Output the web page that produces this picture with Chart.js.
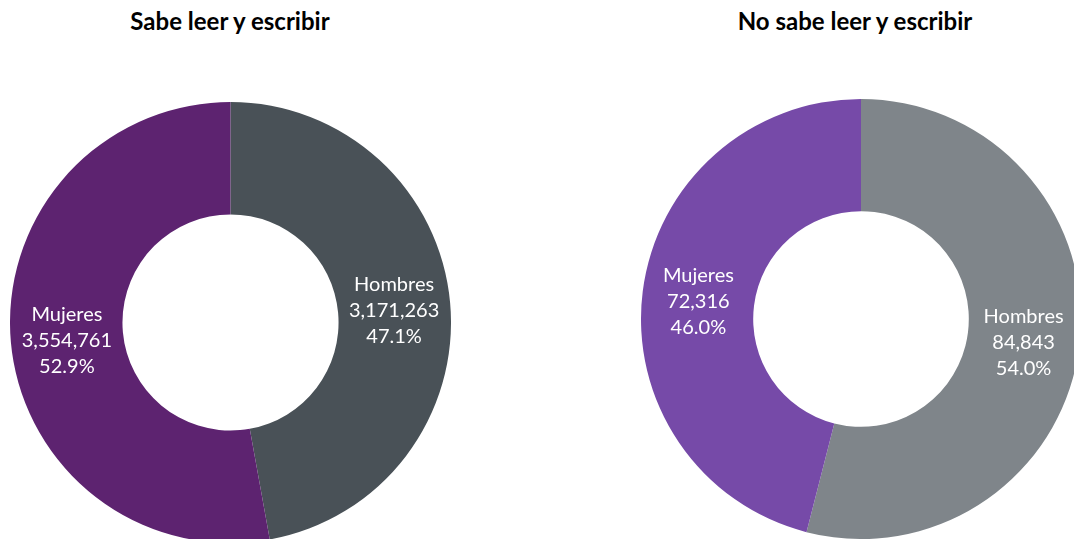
<!DOCTYPE html>
<html>
<head>
<meta charset="utf-8">
<script src="https://cdn.jsdelivr.net/npm/chart.js@4/dist/chart.umd.min.js"></script>
<style>
    html, body {
        margin: 0;
        padding: 0;
        width: 1074px;
        height: 539px;
        overflow: hidden;
        background: #ffffff;
        font-family: Lato, sans-serif;
    }
    .title {
        position: absolute;
        top: 6px;
        width: 400px;
        text-align: center;
        font-weight: bold;
        font-size: 24px;
        color: #000000;
    }
    canvas {
        position: absolute;
    }
</style>
</head>
<body>
<div class="title" id="titleLeft" style="left: 30px;"></div>
<div class="title" id="titleRight" style="left: 655px;"></div>
<canvas id="chartLeft" width="441" height="441" style="left: 10px; top: 102px;"></canvas>
<canvas id="chartRight" width="440" height="440" style="left: 641px; top: 99px;"></canvas>

<script>
// --- Data ---
const categories = ['Hombres', 'Mujeres'];
const sabeValues = [3171263, 3554761];
const noSabeValues = [84843, 72316];
const chartTitles = ['Sabe leer y escribir', 'No sabe leer y escribir'];

const sabeColors = ['#495157', '#5d2370'];
const noSabeColors = ['#7f858a', '#764aa8'];

document.getElementById('titleLeft').textContent = chartTitles[0];
document.getElementById('titleRight').textContent = chartTitles[1];

// Draws name / value / percent inside each slice, at the middle of the ring
const sliceLabels = {
    id: 'sliceLabels',
    afterDatasetsDraw(chart) {
        const ctx = chart.ctx;
        const dataset = chart.data.datasets[0];
        const total = dataset.data.reduce((a, b) => a + b, 0);
        const meta = chart.getDatasetMeta(0);

        ctx.save();
        ctx.fillStyle = '#ffffff';
        ctx.font = '20px Lato, sans-serif';
        ctx.textAlign = 'center';
        ctx.textBaseline = 'middle';

        meta.data.forEach((arc, i) => {
            const pos = arc.tooltipPosition();
            const value = dataset.data[i];
            const lines = [
                chart.data.labels[i],
                value.toLocaleString('en-US'),
                (value / total * 100).toFixed(1) + '%'
            ];
            const lineHeight = 26;
            lines.forEach((text, j) => {
                ctx.fillText(text, pos.x, pos.y + 3 + (j - 1) * lineHeight);
            });
        });
        ctx.restore();
    }
};

function makeDoughnut(canvasId, values, colors) {
    const ctx = document.getElementById(canvasId).getContext('2d');
    return new Chart(ctx, {
        type: 'doughnut',
        data: {
            labels: categories,
            datasets: [{
                data: values,
                backgroundColor: colors,
                borderWidth: 0,
                hoverOffset: 0
            }]
        },
        options: {
            responsive: false,
            animation: false,
            cutout: '49%',
            layout: { padding: 0 },
            plugins: {
                legend: { display: false },
                tooltip: { enabled: false },
                title: { display: false }
            }
        },
        plugins: [sliceLabels]
    });
}

makeDoughnut('chartLeft', sabeValues, sabeColors);
makeDoughnut('chartRight', noSabeValues, noSabeColors);
</script>
</body>
</html>
